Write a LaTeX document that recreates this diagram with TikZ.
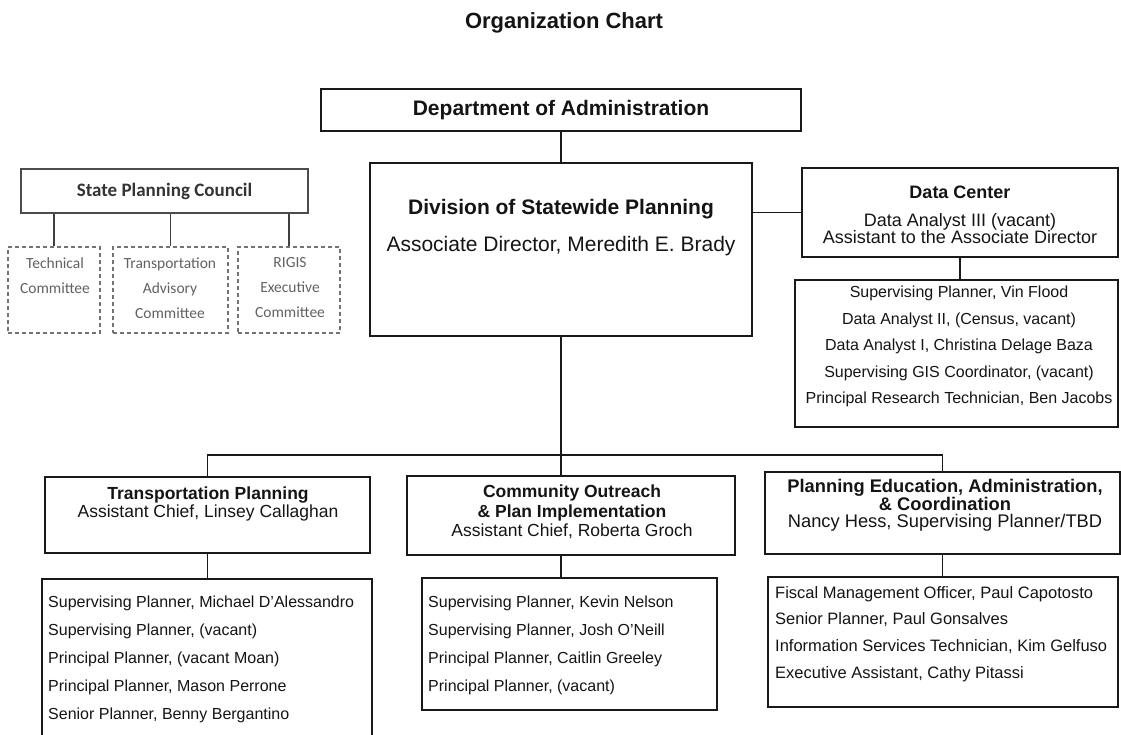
\documentclass[tikz,border=0pt]{standalone}
\usepackage{fontspec}
\setmainfont{Liberation Sans}
\newfontfamily\calib{Carlito}
\tikzset{
  box/.style={draw=black!90, line width=1.5pt, inner sep=0pt},
  heavybox/.style={box, line width=2.6pt},
  council/.style={draw=black!70, line width=2.8pt, inner sep=0pt},
  cmte/.style={draw=black!55, line width=1.2pt, dash pattern=on 4pt off 3pt, inner sep=0pt},
  txt/.style={inner sep=0pt, align=center, text=black!92},
  staff/.style={inner sep=0pt, align=left, anchor=north west, text=black!92,
    font=\fontsize{16}{28}\selectfont},
  conn/.style={draw=black!90, line width=1.8pt},
}
\begin{document}
\begin{tikzpicture}[x=1pt, y=-1pt]
  \useasboundingbox (0,0) rectangle (1121,734);
  \node[txt, font=\bfseries\fontsize{22}{26}\selectfont] (title) at (564,23) {Organization Chart};

  % boxes
  \node[heavybox, minimum width=480, minimum height=42] (dept) at (561,110) {};
  \node[heavybox, minimum width=382, minimum height=173] (div) at (561,249.5) {};
  \node[box, minimum width=316, minimum height=89] (dc) at (960,212.5) {};
  \node[box, minimum width=323, minimum height=147] (dcs) at (956.5,353.5) {};
  \node[council, minimum width=287, minimum height=44] (spc) at (164.5,191) {};
  \node[cmte, minimum width=92, minimum height=86] (c1) at (54,290) {};
  \node[cmte, minimum width=115, minimum height=86] (c2) at (170.5,290) {};
  \node[cmte, minimum width=102, minimum height=86] (c3) at (289,290) {};
  \node[box, minimum width=325, minimum height=76] (tp) at (207.5,515) {};
  \node[box, minimum width=330, minimum height=171] (tps) at (207,664.5) {};
  \node[box, minimum width=328, minimum height=79] (co) at (571,515.5) {};
  \node[box, minimum width=295, minimum height=132] (cos) at (569.5,644) {};
  \node[box, minimum width=355, minimum height=82] (pe) at (942.5,513) {};
  \node[box, minimum width=350, minimum height=130] (pes) at (943,642) {};
  \coordinate (bar) at (561,455);

  % texts
  \node[txt, font=\bfseries\fontsize{21}{25}\selectfont] (dept-t) at (dept) {Department of Administration};
  \node[txt, font=\fontsize{21}{37}\selectfont] (div-t) at (561,228)
    {\textbf{Division of Statewide Planning}\\Associate Director, Meredith E. Brady};
  \node[txt, font=\fontsize{18}{17.5}\selectfont] (dc-t) at (960,215)
    {\textbf{Data Center}\\[10pt]Data Analyst III (vacant)\\Assistant to the Associate Director};
  \node[txt, font=\fontsize{16}{26.5}\selectfont] (dcs-t) at (959,346.5)
    {Supervising Planner, Vin Flood\\Data Analyst II, (Census, vacant)\\Data Analyst I, Christina Delage Baza\\Supervising GIS Coordinator, (vacant)\\Principal Research Technician, Ben Jacobs};
  \node[txt, text=black!80, font=\calib\bfseries\fontsize{19}{22}\selectfont] (spc-t) at (spc) {State Planning Council};
  \node[txt, text=black!62, font=\calib\fontsize{15.5}{25}\selectfont] (c1-t) at (55,276) {Technical\\Committee};
  \node[txt, text=black!62, font=\calib\fontsize{15.5}{25}\selectfont] (c2-t) at (170,288) {Transportation\\Advisory\\Committee};
  \node[txt, text=black!62, font=\calib\fontsize{15.5}{25}\selectfont] (c3-t) at (290,288) {RIGIS\\Executive\\Committee};
  \node[txt, font=\fontsize{17.5}{18.5}\selectfont] (tp-t) at (208,504)
    {\textbf{Transportation Planning}\\Assistant Chief, Linsey Callaghan};
  \node[txt, font=\fontsize{17.5}{19.5}\selectfont] (co-t) at (572,512)
    {\textbf{Community Outreach}\\\textbf{\& Plan Implementation}\\Assistant Chief, Roberta Groch};
  \node[txt, font=\fontsize{18.3}{17}\selectfont] (pe-t) at (945,505)
    {\textbf{Planning Education, Administration,}\\\textbf{\& Coordination}\\Nancy Hess, Supervising Planner/TBD};
  \node[staff] (tps-t) at (48,596)
    {Supervising Planner, Michael D'Alessandro\\Supervising Planner, (vacant)\\Principal Planner, (vacant Moan)\\Principal Planner, Mason Perrone\\Senior Planner, Benny Bergantino};
  \node[staff] (cos-t) at (428,596)
    {Supervising Planner, Kevin Nelson\\Supervising Planner, Josh O'Neill\\Principal Planner, Caitlin Greeley\\Principal Planner, (vacant)};
  \node[staff, font=\fontsize{16.5}{26.7}\selectfont] (pes-t) at (775,586)
    {Fiscal Management Officer, Paul Capotosto\\Senior Planner, Paul Gonsalves\\Information Services Technician, Kim Gelfuso\\Executive Assistant, Cathy Pitassi};

  % connectors
  \begin{scope}[conn]
    \draw (dept) -- (div);
    \draw (dc.west) -- (dc.west -| div.east);
    \draw (dc.south) -- (dc.south |- dcs.north);
    \draw (div.south) -- (bar) -- (bar |- co.north);
    \draw (tp.north) |- (bar) -| (pe.north);
    \draw (tp.south) -- (tp.south |- tps.north);
    \draw (co.south -| bar) -- (cos.north -| bar);
    \draw (pe.south) -- (pe.south |- pes.north);
  \end{scope}
  \begin{scope}[conn, draw=black!75]
    \draw (c1.north) -- (c1.north |- spc.south);
    \draw (c2.north) -- (c2.north |- spc.south);
    \draw (c3.north) -- (c3.north |- spc.south);
  \end{scope}
\end{tikzpicture}
\end{document}
